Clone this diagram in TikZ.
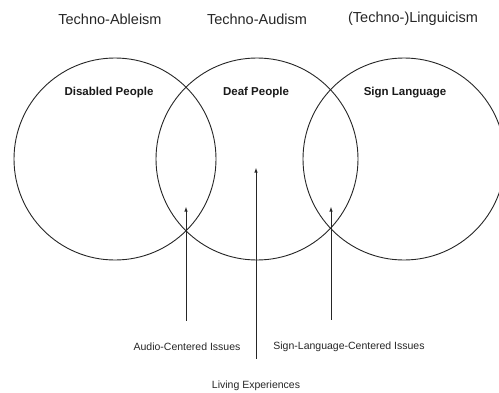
\documentclass[tikz,border=0pt]{standalone}
\usepackage{fontspec}
\setmainfont{Liberation Sans}
\usepackage{tikz}
\usetikzlibrary{arrows,calc,positioning}

\begin{document}
\begin{tikzpicture}[x=1pt,y=-1pt,
  ring/.style={draw=black!85,line width=0.9pt},
  tag/.style={font=\fontsize{14.5}{17}\selectfont,text=black!85},
  grp/.style={font=\fontsize{11.5}{13}\selectfont\bfseries,text=black!90},
  issue/.style={font=\fontsize{10.5}{12}\selectfont,text=black!85},
  pointer/.style={-latex,line width=0.6pt,draw=black!85,shorten <=19pt}]
\useasboundingbox (0,0) rectangle (499,392);
\clip (0,0) rectangle (499,392);
\coordinate (P1) at (115,159);
\coordinate (P2) at (257,159);
\coordinate (P3) at (404,159);
\draw[ring] (P1) circle[radius=101pt];
\draw[ring] (P2) circle[radius=101pt];
\draw[ring] (P3) circle[radius=101pt];
\node[tag] (ableism) at (110,19) {Techno-Ableism};
\node[tag] (audism) at (257,19) {Techno-Audism};
\node[tag] (linguicism) at (413,19) {(Techno-)Linguicism};
\node[grp] (disabled) at (109,93) {Disabled People};
\node[grp] (deaf) at (256,93) {Deaf People};
\node[grp] (sign) at (405,93) {Sign Language};
\coordinate (T1) at (186,207);
\coordinate (T2) at (256,168);
\coordinate (T3) at (331,207);
\node[issue] (audio) at (187,347) {Audio-Centered Issues};
\node[issue] (slissues) at (349,347) {Sign-Language-Centered Issues};
\node[issue] (living) at (256,386) {Living Experiences};
\draw[pointer] (audio.north -| T1) -- (T1);
\draw[pointer] (living.north -| T2) -- (T2);
\draw[pointer] (slissues.north -| T3) -- (T3);
\end{tikzpicture}
\end{document}
